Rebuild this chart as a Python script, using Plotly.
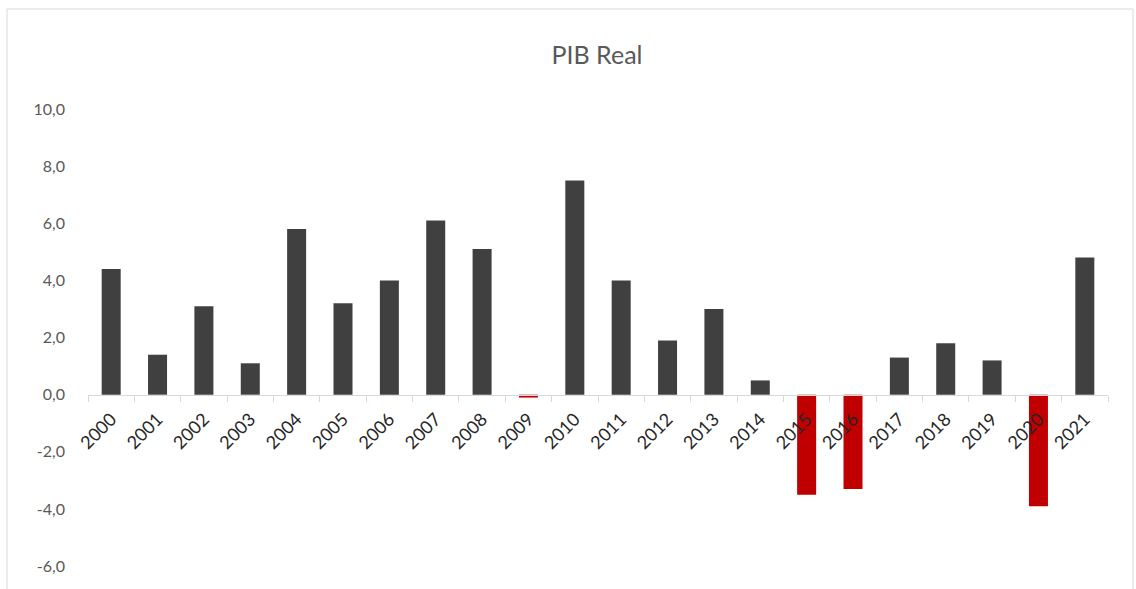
import plotly.graph_objects as go

years = [str(y) for y in range(2000, 2022)]
pib = [4.4, 1.4, 3.1, 1.1, 5.8, 3.2, 4.0, 6.1, 5.1, -0.1, 7.5,
       4.0, 1.9, 3.0, 0.5, -3.5, -3.3, 1.3, 1.8, 1.2, -3.9, 4.8]
title = "PIB Real"
ytick_vals = [-6, -4, -2, 0, 2, 4, 6, 8, 10]
ytick_text = ["-6,0", "-4,0", "-2,0", "0,0", "2,0", "4,0", "6,0", "8,0", "10,0"]

W, H = 1136, 589
L, R, T, B = 88, 1108, 109, 589
ymin, ymax = -6.8, 10.0

colors = ["#C00000" if v < 0 else "#404040" for v in pib]

fig = go.Figure(go.Bar(x=years, y=pib, marker=dict(color=colors, line=dict(width=0)),
                       hoverinfo="x+y"))

fig.update_layout(
    width=W, height=H,
    margin=dict(l=L, r=W - R, t=T, b=H - B, pad=0),
    paper_bgcolor="white", plot_bgcolor="white",
    separators=",.",
    font=dict(family="Lato, Liberation Sans, sans-serif", color="#595959"),
    title=dict(text=title, x=597 / W, xanchor="center", y=1 - 55 / H, yanchor="middle",
               font=dict(size=25, color="#595959")),
    bargap=0.59,
    showlegend=False,
)

fig.update_yaxes(range=[ymin, ymax], tickvals=ytick_vals, ticktext=ytick_text,
                 showgrid=False, zeroline=False, showline=False,
                 ticks="", tickfont=dict(size=16, color="#595959"),
                 ticklabelstandoff=22)

fig.update_xaxes(anchor="free", position=(0 - ymin) / (ymax - ymin), side="bottom",
                 showline=True, linecolor="#d9d9d9", linewidth=1,
                 ticks="outside", tickson="boundaries", ticklen=6, tickcolor="#d9d9d9",
                 tickangle=-45, tickfont=dict(size=18, color="#262626"),
                 ticklabelstandoff=6,
                 showgrid=False, zeroline=False)

# chart frame
fig.add_shape(type="rect", xref="paper", yref="paper",
              x0=(7 - L) / (R - L), x1=(1133 - L) / (R - L),
              y0=(B - 600) / (B - T), y1=(B - 9) / (B - T),
              line=dict(color="#d9d9d9", width=1), fillcolor="rgba(0,0,0,0)", layer="below")

fig.write_html("out.html")
